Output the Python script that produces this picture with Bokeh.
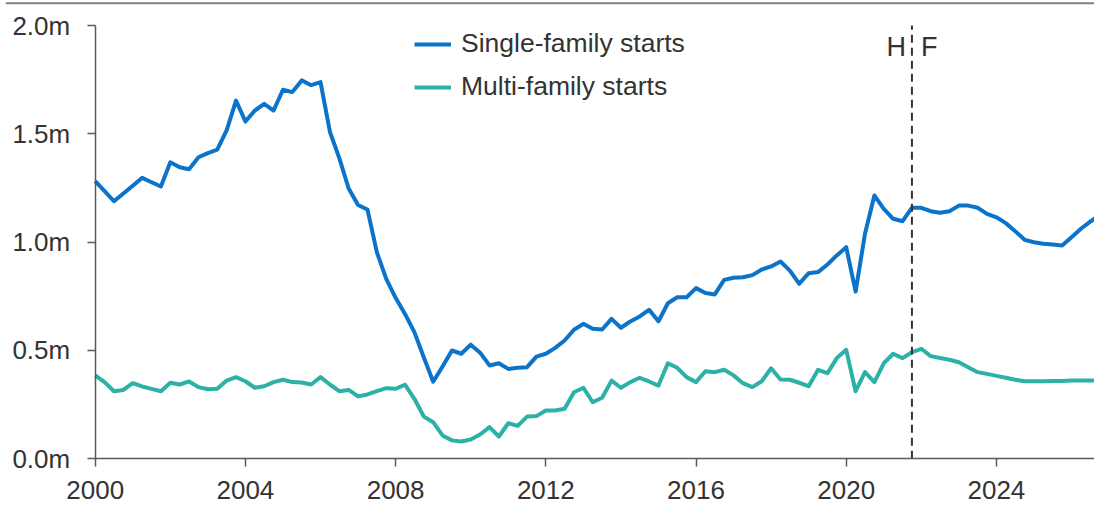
from bokeh.plotting import figure
from bokeh.models import (LinearAxis, FixedTicker, PrintfTickFormatter, Span, Label,
                          Range1d, ColumnDataSource, Legend)
from bokeh.embed import file_html
from bokeh.resources import INLINE

# ---- data (quarterly, millions of units) ----
start_year = 2000
single_family = [
    1.282, 1.236, 1.189, 1.225,   # 2000
    1.261, 1.297, 1.277, 1.257,   # 2001
    1.369, 1.346, 1.337, 1.392,   # 2002
    1.411, 1.427, 1.516, 1.654,   # 2003
    1.557, 1.608, 1.639, 1.608,   # 2004
    1.704, 1.693, 1.747, 1.725,   # 2005
    1.739, 1.510, 1.388, 1.248,   # 2006
    1.172, 1.151, 0.954, 0.831,   # 2007
    0.743, 0.669, 0.585, 0.469,   # 2008
    0.356, 0.426, 0.500, 0.485,   # 2009
    0.527, 0.490, 0.431, 0.441,   # 2010
    0.415, 0.420, 0.423, 0.472,   # 2011
    0.485, 0.512, 0.546, 0.596,   # 2012
    0.623, 0.600, 0.597, 0.646,   # 2013
    0.605, 0.634, 0.657, 0.688,   # 2014
    0.635, 0.718, 0.746, 0.746,   # 2015
    0.788, 0.765, 0.759, 0.826,   # 2016
    0.836, 0.838, 0.848, 0.874,   # 2017
    0.888, 0.911, 0.869, 0.808,   # 2018
    0.857, 0.862, 0.897, 0.939,   # 2019
    0.977, 0.772, 1.039, 1.216,   # 2020
    1.154, 1.108, 1.097, 1.159,   # 2021
    1.159, 1.143, 1.136, 1.143,   # 2022
    1.169, 1.169, 1.159, 1.131,   # 2023
    1.115, 1.088, 1.051, 1.011,   # 2024
    1.000, 0.993, 0.989, 0.985,   # 2025
    1.023, 1.062, 1.095, 1.125,   # 2026
]
multi_family = [
    0.385, 0.354, 0.312, 0.318,   # 2000
    0.349, 0.334, 0.323, 0.312,   # 2001
    0.351, 0.343, 0.357, 0.331,   # 2002
    0.321, 0.323, 0.361, 0.377,   # 2003
    0.358, 0.328, 0.335, 0.354,   # 2004
    0.365, 0.354, 0.352, 0.343,   # 2005
    0.377, 0.343, 0.312, 0.318,   # 2006
    0.288, 0.297, 0.312, 0.326,   # 2007
    0.323, 0.342, 0.277, 0.195,   # 2008
    0.169, 0.108, 0.085, 0.080,   # 2009
    0.089, 0.112, 0.146, 0.103,   # 2010
    0.164, 0.152, 0.195, 0.197,   # 2011
    0.223, 0.223, 0.231, 0.307,   # 2012
    0.328, 0.261, 0.282, 0.361,   # 2013
    0.328, 0.354, 0.374, 0.357,   # 2014
    0.338, 0.441, 0.420, 0.377,   # 2015
    0.354, 0.404, 0.400, 0.411,   # 2016
    0.385, 0.349, 0.331, 0.358,   # 2017
    0.418, 0.366, 0.365, 0.351,   # 2018
    0.335, 0.411, 0.395, 0.465,   # 2019
    0.503, 0.312, 0.400, 0.354,   # 2020
    0.441, 0.485, 0.465, 0.492,   # 2021
    0.508, 0.474, 0.465, 0.457,   # 2022
    0.446, 0.423, 0.400, 0.392,   # 2023
    0.383, 0.374, 0.365, 0.358,   # 2024
    0.358, 0.358, 0.359, 0.359,   # 2025
    0.361, 0.361, 0.361, 0.361,   # 2026
]
quarters = [start_year + i / 4 for i in range(len(single_family))]
series_names = ["Single-family starts", "Multi-family starts"]
x_ticks = [2000, 2004, 2008, 2012, 2016, 2020, 2024]
y_ticks = [0.0, 0.5, 1.0, 1.5, 2.0]
forecast_start = 2021.75
split_labels = ["H", "F"]

# ---- styling ----
BLUE = "#0B73C9"
TEAL = "#2DB0A6"
TEXT = "#333333"
AXIS = "#5a5a5a"
FONT = "Liberation Sans"
FS = "26px"

W, H = 1094, 508
x_start, x_end = 1997.611, 2026.612
y_start, y_end = -0.2295, 2.1159

p = figure(width=W, height=H, output_backend="svg", toolbar_location=None,
           title=None, x_axis_type=None, y_axis_type=None,
           x_range=Range1d(x_start, x_end), y_range=Range1d(y_start, y_end),
           min_border_left=5, min_border_right=0, min_border_top=0, min_border_bottom=0)
p.outline_line_color = None
p.xgrid.visible = False
p.ygrid.visible = False
p.background_fill_color = "white"
p.border_fill_color = "white"

src = ColumnDataSource(dict(x=quarters, sf=single_family, mf=multi_family))
r1 = p.line("x", "sf", source=src, line_color=BLUE, line_width=4, line_join="round")
r2 = p.line("x", "mf", source=src, line_color=TEAL, line_width=4, line_join="round")

# forecast divider
div_src = ColumnDataSource(dict(x0=[forecast_start], y0=[y_ticks[0]], x1=[forecast_start], y1=[y_ticks[-1]]))
p.segment("x0", "y0", "x1", "y1", source=div_src, line_color="#333333", line_width=2, line_dash="8 5")

p.add_layout(Label(x=forecast_start, y=1.903, text=split_labels[0], text_align="right",
                   x_offset=-6, text_baseline="alphabetic", text_font=FONT,
                   text_font_size="27px", text_color=TEXT))
p.add_layout(Label(x=forecast_start, y=1.903, text=split_labels[1], text_align="left",
                   x_offset=9, text_baseline="alphabetic", text_font=FONT,
                   text_font_size="27px", text_color=TEXT))

# top rule
p.add_layout(Span(location=2.1034, dimension="width", line_color="#808080", line_width=2))

# axes
yax = LinearAxis(fixed_location=x_ticks[0], bounds=(y_ticks[0], y_ticks[-1]),
                 ticker=FixedTicker(ticks=y_ticks),
                 formatter=PrintfTickFormatter(format="%.1fm"))
xax = LinearAxis(fixed_location=y_ticks[0], bounds=(x_ticks[0], x_end),
                 ticker=FixedTicker(ticks=x_ticks),
                 formatter=PrintfTickFormatter(format="%d"))
for ax in (xax, yax):
    ax.axis_line_color = AXIS
    ax.axis_line_width = 1.5
    ax.major_tick_line_color = AXIS
    ax.major_tick_line_width = 1.5
    ax.major_tick_out = 8
    ax.major_tick_in = 0
    ax.minor_tick_line_color = None
    ax.major_label_text_font = FONT
    ax.major_label_text_font_size = FS
    ax.major_label_text_color = TEXT
yax.major_label_standoff = 17
xax.major_label_standoff = 14
p.add_layout(yax, "left")
p.add_layout(xax, "below")

legend = Legend(items=[(series_names[0], [r1]), (series_names[1], [r2])],
                location=(409, 406), orientation="vertical",
                glyph_width=37, glyph_height=20, label_standoff=10, spacing=12,
                padding=0, margin=0, border_line_color=None, background_fill_alpha=0,
                label_text_font=FONT, label_text_font_size="26.5px", label_text_color=TEXT)
p.add_layout(legend, "center")

open("out.html", "w").write(file_html(p, INLINE))
